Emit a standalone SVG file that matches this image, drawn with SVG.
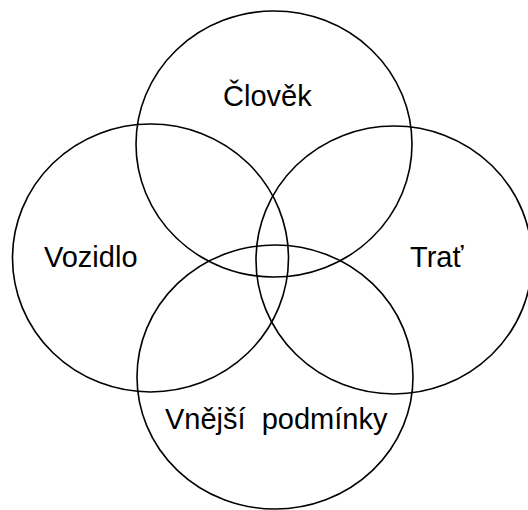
<svg xmlns="http://www.w3.org/2000/svg" width="528" height="510" viewBox="0 0 528 510">
<style>
.c{fill:none;stroke:#000;stroke-width:1.6}
.t{font-family:"Liberation Sans",Arial,sans-serif;font-size:29px;fill:#000}
</style>
<rect width="528" height="510" fill="#fff"/>
<g id="clovek"><ellipse class="c" cx="274" cy="144" rx="138" ry="133"/><text class="t" x="223" y="106">Člověk</text></g>
<g id="vozidlo"><ellipse class="c" cx="150.5" cy="258" rx="138" ry="134"/><text class="t" x="44" y="267">Vozidlo</text></g>
<g id="trat"><ellipse class="c" cx="394" cy="260" rx="138" ry="134"/><text class="t" x="410" y="267">Trať</text></g>
<g id="vnejsi"><ellipse class="c" cx="275" cy="377" rx="138" ry="132"/><text class="t" x="165" y="429" xml:space="preserve">Vnější  podmínky</text></g>
<g id="connectors"/>
</svg>
